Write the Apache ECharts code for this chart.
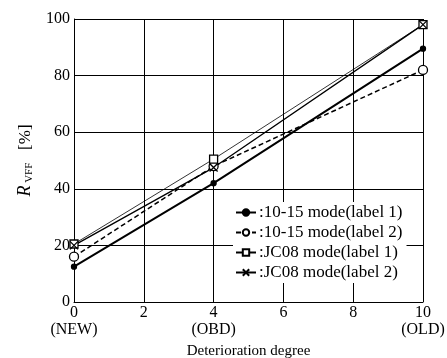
<!DOCTYPE html>
<html>
<head>
<meta charset="utf-8">
<script src="https://cdn.jsdelivr.net/npm/echarts@6/dist/echarts.min.js"></script>
<style>
  html, body { margin: 0; padding: 0; background: #fff; }
  #chart { width: 447px; height: 358px; }
</style>
</head>
<body>
<div id="chart"></div>
<script>
const degrees = [0, 4, 10];
const xTickLabels = ["0\n(NEW)", "2", "4\n(OBD)", "6", "8", "10\n(OLD)"];
const mode1015Label1 = [12.5, 42, 89.5];
const mode1015Label2 = [16, 48, 82];
const jc08Label1 = [20.5, 50.5, 98];
const jc08Label2 = [20, 47.5, 98];

const FONT = "Liberation Serif";
const CROSS = "path://M0,0L10,10M10,0L0,10";

const pairs = vals => degrees.map((d, i) => [d, vals[i]]);

function makeSeries(name, vals, symbol, fill, lineStyle, symbolSize) {
  return {
    name,
    type: "line",
    data: pairs(vals),
    symbol,
    symbolSize,
    showSymbol: true,
    lineStyle: { color: "#000", ...lineStyle },
    itemStyle: { color: fill, borderColor: "#000", borderWidth: 1.3 },
    emphasis: { disabled: true },
    z: 3
  };
}

const chart = echarts.init(document.getElementById("chart"));

chart.setOption({
  animation: false,
  backgroundColor: "#fff",
  grid: { left: 74, right: 24, top: 19, bottom: 56, outerBoundsMode: "none", containLabel: false },
  legend: {
    orient: "vertical",
    left: 233,
    top: 202,
    itemGap: 3,
    itemWidth: 20,
    itemHeight: 8,
    backgroundColor: "#fff",
    padding: [2, 4, 2, 2],
    textStyle: { fontFamily: FONT, fontSize: 17, color: "#000", padding: [0, 0, 0, -2] },
    formatter: n => ":" + n,
    data: [
      "10-15 mode(label 1)",
      "10-15 mode(label 2)",
      "JC08 mode(label 1)",
      "JC08 mode(label 2)"
    ]
  },
  xAxis: {
    type: "value",
    min: 0,
    max: 10,
    interval: 2,
    name: "Deterioration degree",
    nameLocation: "middle",
    nameGap: 42,
    nameTextStyle: { fontFamily: FONT, fontSize: 15, color: "#000" },
    axisLine: { onZero: false, lineStyle: { color: "#000", width: 1 } },
    axisTick: { show: false },
    axisLabel: {
      fontFamily: FONT,
      fontSize: 16,
      color: "#000",
      lineHeight: 17,
      margin: 2,
      formatter: v => xTickLabels[Math.round(v / 2)]
    },
    splitLine: { show: true, lineStyle: { color: "#000", width: 1 } }
  },
  yAxis: {
    type: "value",
    min: 0,
    max: 100,
    interval: 20,
    name: "{r|R}{s| VFF}{p|   [%]}",
    nameLocation: "middle",
    nameGap: 37,
    nameTextStyle: {
      color: "#000",
      rich: {
        r: { fontFamily: FONT, fontStyle: "italic", fontSize: 18, color: "#000", lineHeight: 20 },
        s: { fontFamily: FONT, fontSize: 11, color: "#000", verticalAlign: "bottom", lineHeight: 11, padding: [9, 0, 0, 0] },
        p: { fontFamily: FONT, fontSize: 17, color: "#000", lineHeight: 20 }
      }
    },
    axisLine: { show: true, lineStyle: { color: "#000", width: 1 } },
    axisTick: { show: false },
    axisLabel: { fontFamily: FONT, fontSize: 16, color: "#000", margin: 4 },
    splitLine: { show: true, lineStyle: { color: "#000", width: 1 } }
  },
  series: [
    makeSeries("10-15 mode(label 1)", mode1015Label1, "circle", "#000", { width: 2 }, 5),
    makeSeries("10-15 mode(label 2)", mode1015Label2, "circle", "#fff", { width: 1.5, type: [5, 3] }, 9),
    makeSeries("JC08 mode(label 1)", jc08Label1, "rect", "#fff", { width: 0.8 }, 8),
    makeSeries("JC08 mode(label 2)", jc08Label2, CROSS, "#fff", { width: 1.3 }, 8)
  ]
});
</script>
</body>
</html>
